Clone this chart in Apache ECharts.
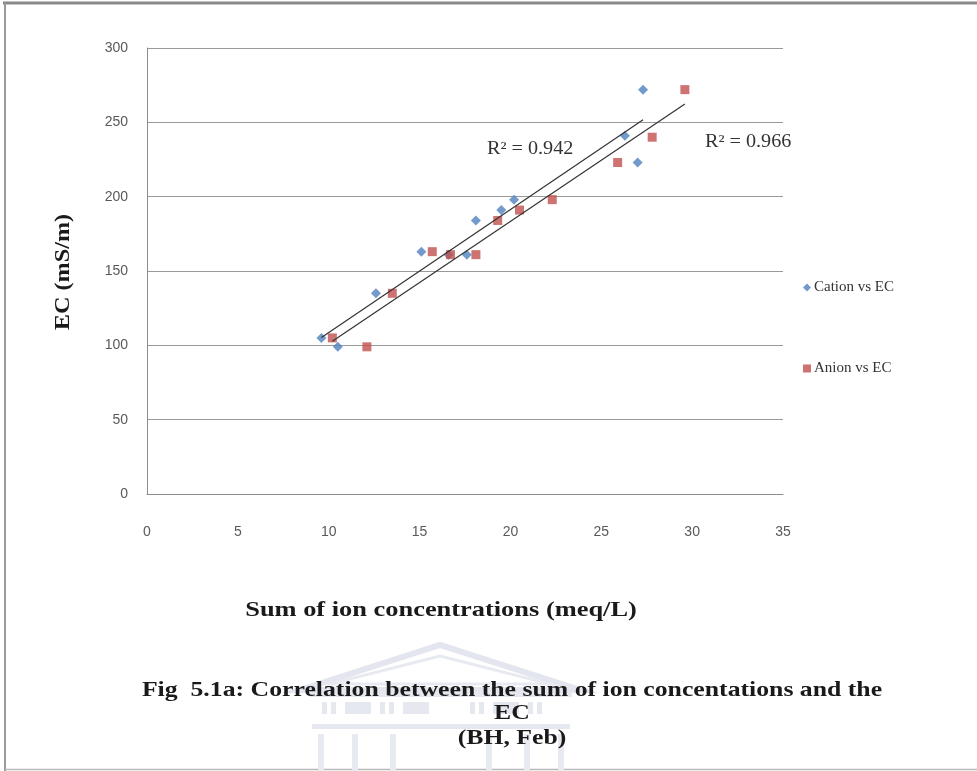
<!DOCTYPE html>
<html>
<head>
<meta charset="utf-8">
<title>EC vs sum of ion concentrations</title>
<script src="https://cdn.jsdelivr.net/npm/echarts@6/dist/echarts.min.js"></script>
<style>
  html, body { margin: 0; padding: 0; background: #ffffff; }
  #chart { width: 977px; height: 771px; }
</style>
</head>
<body>
<div id="chart"></div>
<script>
// Sum of cations (meq/L) against EC (mS/m)
const cationSum = [9.6, 10.5, 12.6, 15.1, 16.6, 17.6, 18.1, 19.5, 20.2, 26.3, 27.0, 27.3];
const cationEC  = [105, 99, 135, 163, 161, 161, 184, 191, 198, 241, 223, 272];

// Sum of anions (meq/L) against EC (mS/m)
const anionSum = [10.2, 12.1, 13.5, 15.7, 16.7, 18.1, 19.3, 20.5, 22.3, 25.9, 27.8, 29.6];
const anionEC  = [105, 99, 135, 163, 161, 161, 184, 191, 198, 223, 240, 272];

// Coefficients of determination quoted on the trendlines
const r2Labels = ['R² = 0.942', 'R² = 0.966'];

const seriesNames = ['Cation vs EC', 'Anion vs EC'];

function pairs(xs, ys) { return xs.map((x, i) => [x, ys[i]]); }

// Least-squares straight line spanning the range of the points
function trend(xs, ys) {
  const n = xs.length;
  const mx = xs.reduce((a, b) => a + b, 0) / n;
  const my = ys.reduce((a, b) => a + b, 0) / n;
  let sxy = 0, sxx = 0;
  for (let i = 0; i < n; i++) { sxy += (xs[i] - mx) * (ys[i] - my); sxx += (xs[i] - mx) ** 2; }
  const b = sxy / sxx, a = my - b * mx;
  const x0 = Math.min(...xs), x1 = Math.max(...xs);
  return [[x0, a + b * x0], [x1, a + b * x1]];
}

const serif = '"Liberation Serif", "Times New Roman", serif';
const sans = '"Liberation Sans", Arial, sans-serif';

// bold serif caption text, stretched a little horizontally
function caption(text, x, y, size, sx, extra) {
  return Object.assign({
    type: 'text', x: x, y: y, scaleX: sx, scaleY: 1,
    style: { text: text, font: 'bold ' + size + 'px ' + serif, fill: '#1a1a1a', align: 'center', verticalAlign: 'middle' }
  }, extra || {});
}

const chart = echarts.init(document.getElementById('chart'), null, { renderer: 'canvas' });

chart.setOption({
  backgroundColor: '#ffffff',
  animation: false,
  grid: { left: 147, top: 48, right: 194, bottom: 277 },
  xAxis: {
    type: 'value', min: 0, max: 35, interval: 5,
    axisLine: { show: true, lineStyle: { color: '#8c8c8c', width: 1 } },
    axisTick: { show: false },
    splitLine: { show: false },
    axisLabel: { color: '#595959', fontFamily: sans, fontSize: 14, margin: 31 }
  },
  yAxis: {
    type: 'value', min: 0, max: 300, interval: 50,
    axisLine: { show: true, lineStyle: { color: '#8c8c8c', width: 1 } },
    axisTick: { show: false },
    splitLine: { show: true, lineStyle: { color: '#9a9a9a', width: 1 } },
    axisLabel: { color: '#595959', fontFamily: sans, fontSize: 14, margin: 19 }
  },
  legend: {
    data: seriesNames,
    orient: 'vertical',
    left: 798, top: 275,
    itemGap: 66,
    itemWidth: 8, itemHeight: 8,
    textStyle: { fontFamily: serif, fontSize: 15, color: '#333333', padding: [0, 0, 0, -2] }
  },
  series: [
    {
      name: seriesNames[0], type: 'scatter', symbol: 'diamond', symbolSize: 10,
      itemStyle: { color: '#4F81BD' }, z: 3,
      data: pairs(cationSum, cationEC)
    },
    {
      name: seriesNames[1], type: 'scatter', symbol: 'rect', symbolSize: 9,
      itemStyle: { color: '#C0504D' }, z: 4,
      data: pairs(anionSum, anionEC)
    },
    {
      name: 'cation trend', type: 'line', showSymbol: false, silent: true, z: 5,
      lineStyle: { color: '#333333', width: 1.2 },
      data: trend(cationSum, cationEC)
    },
    {
      name: 'anion trend', type: 'line', showSymbol: false, silent: true, z: 5,
      lineStyle: { color: '#333333', width: 1.2 },
      data: trend(anionSum, anionEC)
    }
  ],
  graphic: [
    // page frame
    { type: 'line', shape: { x1: 3, y1: 3, x2: 977, y2: 3 }, style: { stroke: '#8a8a8a', lineWidth: 3 } },
    { type: 'line', shape: { x1: 5, y1: 3, x2: 5, y2: 771 }, style: { stroke: '#9a9a9a', lineWidth: 2 } },
    { type: 'line', shape: { x1: 5, y1: 769.5, x2: 977, y2: 769.5 }, style: { stroke: '#b8b8b8', lineWidth: 1.5 } },
    // faint building watermark behind the caption
    {
      type: 'group', z: -1, silent: true,
      children: [
        { type: 'polygon', shape: { points: [[300, 690], [440, 645], [580, 690]] }, style: { fill: 'none', stroke: '#e3e5ef', lineWidth: 6 } },
        { type: 'polygon', shape: { points: [[330, 684], [440, 656], [550, 684]] }, style: { fill: 'none', stroke: '#e8eaf2', lineWidth: 3 } },
        { type: 'rect', shape: { x: 310, y: 692, width: 262, height: 5 }, style: { fill: '#e6e8f0' } },
        { type: 'rect', shape: { x: 322, y: 702, width: 5, height: 12 }, style: { fill: '#e6e8f0' } },
        { type: 'rect', shape: { x: 331, y: 702, width: 5, height: 12 }, style: { fill: '#e6e8f0' } },
        { type: 'rect', shape: { x: 345, y: 702, width: 26, height: 12 }, style: { fill: '#e6e8f0' } },
        { type: 'rect', shape: { x: 380, y: 702, width: 5, height: 12 }, style: { fill: '#e6e8f0' } },
        { type: 'rect', shape: { x: 389, y: 702, width: 5, height: 12 }, style: { fill: '#e6e8f0' } },
        { type: 'rect', shape: { x: 403, y: 702, width: 26, height: 12 }, style: { fill: '#e6e8f0' } },
        { type: 'rect', shape: { x: 470, y: 702, width: 5, height: 12 }, style: { fill: '#e6e8f0' } },
        { type: 'rect', shape: { x: 479, y: 702, width: 5, height: 12 }, style: { fill: '#e6e8f0' } },
        { type: 'rect', shape: { x: 493, y: 702, width: 26, height: 12 }, style: { fill: '#e6e8f0' } },
        { type: 'rect', shape: { x: 528, y: 702, width: 5, height: 12 }, style: { fill: '#e6e8f0' } },
        { type: 'rect', shape: { x: 537, y: 702, width: 5, height: 12 }, style: { fill: '#e6e8f0' } },
        { type: 'rect', shape: { x: 312, y: 724, width: 258, height: 5 }, style: { fill: '#e6e8f0' } },
        { type: 'rect', shape: { x: 318, y: 734, width: 6, height: 37 }, style: { fill: '#e8eaf2' } },
        { type: 'rect', shape: { x: 352, y: 734, width: 6, height: 37 }, style: { fill: '#e8eaf2' } },
        { type: 'rect', shape: { x: 390, y: 734, width: 6, height: 37 }, style: { fill: '#e8eaf2' } },
        { type: 'rect', shape: { x: 486, y: 734, width: 6, height: 37 }, style: { fill: '#e8eaf2' } },
        { type: 'rect', shape: { x: 524, y: 734, width: 6, height: 37 }, style: { fill: '#e8eaf2' } },
        { type: 'rect', shape: { x: 558, y: 734, width: 6, height: 37 }, style: { fill: '#e8eaf2' } }
      ]
    },
    // R² annotations
    { type: 'text', x: 487, y: 140, scaleX: 1.12, style: { text: r2Labels[0], font: '18px ' + serif, fill: '#333333' } },
    { type: 'text', x: 705, y: 133, scaleX: 1.12, style: { text: r2Labels[1], font: '18px ' + serif, fill: '#333333' } },
    // axis titles
    caption('EC (mS/m)', 63, 272, 22, 1.1, { rotation: Math.PI / 2 }),
    caption('Sum of ion concentrations (meq/L)', 441, 610, 22, 1.2),
    // figure caption
    caption('Fig  5.1a: Correlation between the sum of ion concentations and the', 512, 690, 22, 1.17),
    caption('EC', 512, 713, 22, 1.17),
    caption('(BH, Feb)', 512, 738, 22, 1.17)
  ]
});
</script>
</body>
</html>
